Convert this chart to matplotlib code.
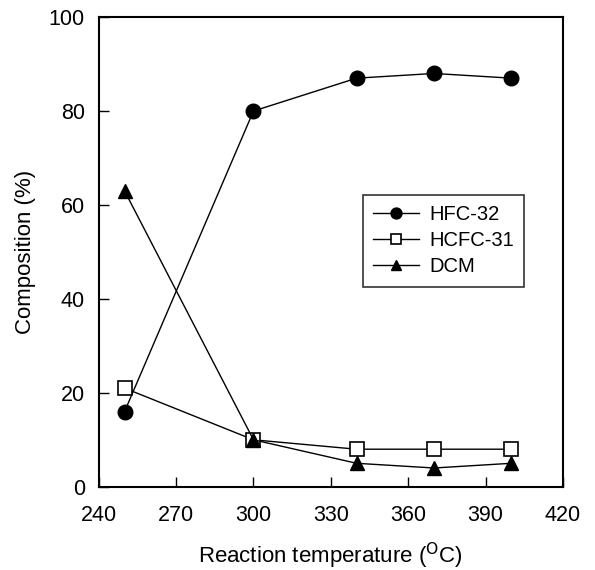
import matplotlib
matplotlib.use("Agg")
import matplotlib.pyplot as plt

plt.rcParams['font.family'] = ['Liberation Sans', 'DejaVu Sans']

temps = [250, 300, 340, 370, 400]
hfc32 = [16, 80, 87, 88, 87]
hcfc31 = [21, 10, 8, 8, 8]
dcm = [63, 10, 5, 4, 5]

fig = plt.figure(figsize=(5.95, 5.70), dpi=100)
ax = fig.add_axes([0.166, 0.146, 0.780, 0.824])

ax.plot(temps, hfc32, '-', color='black', lw=1, marker='o', ms=10.5, mfc='black', mec='black', label='HFC-32')
ax.plot(temps, hcfc31, '-', color='black', lw=1, marker='s', ms=9.5, mfc='white', mec='black', mew=1.2, label='HCFC-31')
ax.plot(temps, dcm, '-', color='black', lw=1, marker='^', ms=10.5, mfc='black', mec='black', label='DCM')

ax.set_xlim(240, 420)
ax.set_ylim(0, 100)
ax.set_xticks([240, 270, 300, 330, 360, 390, 420])
ax.set_yticks([0, 20, 40, 60, 80, 100])
ax.tick_params(direction='in', length=7, width=1, labelsize=15.5, top=False, right=False)
ax.tick_params(axis='x', pad=13)
ax.tick_params(axis='y', pad=10)
for s in ax.spines.values():
    s.set_linewidth(1.5)

ax.set_xlabel('Reaction temperature ($^{\\rm O}$C)', fontsize=16, labelpad=11)
ax.set_ylabel('Composition (%)', fontsize=16, labelpad=9)

leg = ax.legend(loc='upper left', bbox_to_anchor=(0.547, 0.642), fontsize=14.5, frameon=True,
                fancybox=False, edgecolor='black', handlelength=2.3, handletextpad=0.5,
                borderpad=0.5, labelspacing=0.35, markerscale=0.75)
leg.get_frame().set_linewidth(1.2)

fig.savefig('out.png', dpi=100)
